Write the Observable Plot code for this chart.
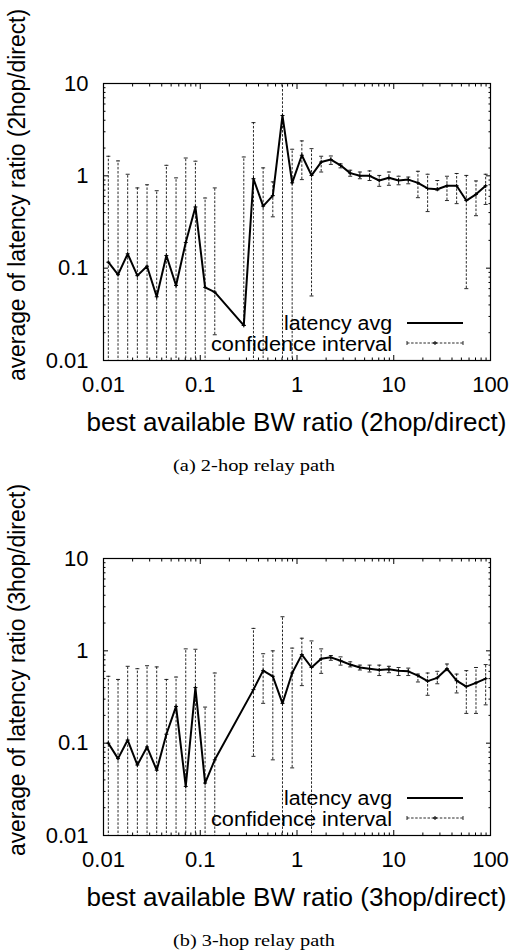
<!DOCTYPE html>
<html><head><meta charset="utf-8">
<script src="https://cdn.jsdelivr.net/npm/d3@7"></script>
<script src="https://cdn.jsdelivr.net/npm/@observablehq/plot@0.6"></script>
<style>
html,body{margin:0;padding:0;background:#fff;}
#root{position:relative;width:514px;height:951px;overflow:hidden;background:#fff;}
.panel{position:absolute;left:0;}
#overlay{position:absolute;left:0;top:0;}
</style></head><body><div id="root"></div>
<script>
// ---- data: panel (a) 2-hop relay path ----
const ratio2hop = [0.01122,0.01413,0.01778,0.02239,0.02818,0.03548,0.04467,0.05623,0.07079,0.08913,0.1122,0.1413,
  0.2818,0.3548,0.4467,0.5623,0.7079,0.8913,1.122,1.413,1.778,2.239,2.818,3.548,4.467,5.623,7.079,8.913,
  11.22,14.13,17.78,22.39,28.18,35.48,44.67,56.23,70.79,89.13];
const avg2hop = [0.116,0.085,0.143,0.083,0.105,0.049,0.137,0.065,0.19,0.46,0.062,0.055,
  0.024,0.93,0.47,0.61,4.5,0.84,1.67,1.01,1.41,1.5,1.3,1.07,1.0,1.0,0.89,0.955,
  0.89,0.91,0.84,0.73,0.715,0.78,0.78,0.54,0.63,0.78];
const hi2hop = [1.63,1.45,1.04,0.74,0.80,0.69,1.3,0.95,1.56,1.44,0.575,0.74,
  1.6,3.77,1.22,0.86,12,1.94,2.39,1.97,1.63,1.64,1.35,1.15,1.1,1.13,1.01,1.1,
  0.99,0.97,1.12,1.04,0.89,0.99,1.06,1.01,0.88,1.04];
// 0.001 = lower bound below the axis (clipped at frame)
const lo2hop = [0.001,0.001,0.001,0.001,0.001,0.001,0.001,0.001,0.001,0.001,0.001,0.019,
  0.024,0.001,0.001,0.36,0.001,0.001,0.91,0.05,1.1,1.33,1.22,0.99,0.93,0.89,0.77,0.79,
  0.8,0.82,0.58,0.41,0.7,0.54,0.5,0.06,0.37,0.49];

// ---- data: panel (b) 3-hop relay path ----
const ratio3hop = [0.01122,0.01413,0.01778,0.02239,0.02818,0.03548,0.04467,0.05623,0.07079,0.08913,0.1122,0.1413,
  0.3548,0.4467,0.5623,0.7079,0.8913,1.122,1.413,1.778,2.239,2.818,3.548,4.467,5.623,7.079,8.913,
  11.22,14.13,17.78,22.39,28.18,35.48,44.67,56.23,70.79,89.13];
const avg3hop = [0.10,0.068,0.108,0.058,0.091,0.051,0.125,0.25,0.034,0.40,0.037,0.066,
  0.38,0.61,0.53,0.27,0.575,0.91,0.66,0.82,0.85,0.78,0.71,0.66,0.64,0.62,0.63,
  0.61,0.60,0.54,0.47,0.51,0.64,0.475,0.41,0.45,0.50];
const hi3hop = [0.53,0.49,0.68,0.64,0.69,0.67,0.49,0.52,1.05,1.04,0.246,0.575,
  1.75,0.93,1.0,2.34,1.07,1.37,1.28,1.05,0.89,0.86,0.76,0.70,0.70,0.70,0.68,
  0.66,0.65,0.56,0.575,0.6,0.72,0.56,0.61,0.66,0.71];
const lo3hop = [0.001,0.001,0.001,0.001,0.001,0.001,0.001,0.001,0.001,0.001,0.001,0.001,
  0.072,0.27,0.066,0.001,0.054,0.42,0.001,0.57,0.79,0.70,0.67,0.62,0.59,0.54,0.58,
  0.54,0.54,0.46,0.33,0.44,0.61,0.35,0.21,0.21,0.26];

// ---- ticks / labels ----
const xTicks = [0.01,0.1,1,10,100];
const yTicks = [0.01,0.1,1,10];
const tickLabels = {0.01:"0.01",0.1:"0.1",1:"1",10:"10",100:"100"};
const xTitle = ["best available BW ratio (2hop/direct)","best available BW ratio (3hop/direct)"];
const yTitle = ["average of latency ratio (2hop/direct)","average of latency ratio (3hop/direct)"];
const captions = ["(a) 2-hop relay path","(b) 3-hop relay path"];
const legendLabels = ["latency avg","confidence interval"];

function minorOf(major){const out=[];for(let i=0;i<major.length-1;i++)for(let m=2;m<=9;m++)out.push(major[i]*m);return out;}
const xMinor = minorOf(xTicks), yMinor = minorOf(yTicks);

const capSym = {draw(ctx,size){const r=Math.sqrt(size/Math.PI);ctx.moveTo(-r,0);ctx.lineTo(r,0);}};
const plusSym = {draw(ctx,size){const r=Math.sqrt(size/Math.PI);ctx.moveTo(-r,0);ctx.lineTo(r,0);ctx.moveTo(0,-r);ctx.lineTo(0,r);}};

function panel(ratio, avg, hi, lo){
  const data = ratio.map((r,i)=>({r, a:avg[i], hi:hi[i], lo:lo[i]}));
  const tk = {stroke:"#000", strokeWidth:1, tickFormat:()=>"", label:null};
  return Plot.plot({
    width:514, height:400, marginLeft:103, marginRight:24, marginTop:83, marginBottom:40,
    style:{fontFamily:"'Liberation Sans', Arial, sans-serif", fontSize:"22px", background:"transparent", overflow:"visible", color:"#000"},
    x:{type:"log", domain:[0.01,100]},
    y:{type:"log", domain:[0.01,10]},
    marks:[
      Plot.ruleX(data,{x:"r", y1:"lo", y2:"hi", stroke:"#111", strokeWidth:0.9, strokeDasharray:"2.5,1.6", clip:true}),
      Plot.dot(data,{x:"r", y:"hi", symbol:capSym, r:2, stroke:"#111", strokeWidth:0.9, clip:true}),
      Plot.dot(data,{x:"r", y:"lo", symbol:capSym, r:2, stroke:"#111", strokeWidth:0.9, clip:true}),
      Plot.line(data,{x:"r", y:"a", stroke:"#000", strokeWidth:2, clip:true}),
      Plot.dot(data,{x:"r", y:"a", symbol:plusSym, r:2, stroke:"#000", strokeWidth:1, clip:true}),
      Plot.axisX(xTicks,{anchor:"bottom", tickSize:-5, ...tk}),
      Plot.axisX(xTicks,{anchor:"top", tickSize:-5, ...tk}),
      Plot.axisX(xMinor,{anchor:"bottom", tickSize:-2.5, ...tk}),
      Plot.axisX(xMinor,{anchor:"top", tickSize:-2.5, ...tk}),
      Plot.axisY(yTicks,{anchor:"left", tickSize:-5, ...tk}),
      Plot.axisY(yTicks,{anchor:"right", tickSize:-5, ...tk}),
      Plot.axisY(yMinor,{anchor:"left", tickSize:-2.5, ...tk}),
      Plot.axisY(yMinor,{anchor:"right", tickSize:-2.5, ...tk}),
      Plot.axisX(xTicks,{anchor:"bottom", tickSize:0, tickPadding:16, tickFormat:d=>tickLabels[d], label:null, fill:"#000"}),
      Plot.axisY(yTicks,{anchor:"left", tickSize:0, tickPadding:15, tickFormat:d=>tickLabels[d], label:null, fill:"#000"}),
      Plot.frame({stroke:"#000", strokeWidth:1.2})
    ]
  });
}

const root = document.getElementById("root");
const panels = [[ratio2hop,avg2hop,hi2hop,lo2hop],[ratio3hop,avg3hop,hi3hop,lo3hop]];
const offsets = [0, 475];
panels.forEach((p,i)=>{
  const el = panel(...p);
  const wrap = document.createElement("div");
  wrap.className = "panel"; wrap.style.top = offsets[i]+"px";
  wrap.appendChild(el);
  root.appendChild(wrap);
});

// overlay: titles, legend, captions
const NS = "http://www.w3.org/2000/svg";
const ov = document.createElementNS(NS,"svg");
ov.setAttribute("id","overlay"); ov.setAttribute("width",514); ov.setAttribute("height",951);
function txt(parent, s, attrs){const t=document.createElementNS(NS,"text");for(const k in attrs)t.setAttribute(k,attrs[k]);t.textContent=s;parent.appendChild(t);return t;}
function ln(parent, attrs){const l=document.createElementNS(NS,"line");for(const k in attrs)l.setAttribute(k,attrs[k]);parent.appendChild(l);return l;}
offsets.forEach((o,i)=>{
  const g = document.createElementNS(NS,"g");
  g.setAttribute("transform",`translate(0,${o})`);
  g.setAttribute("font-family","'Liberation Sans', Arial, sans-serif");
  ov.appendChild(g);
  txt(g, yTitle[i], {transform:"translate(25,381) rotate(-90)", "font-size":23, textLength:372, lengthAdjust:"spacingAndGlyphs"});
  txt(g, xTitle[i], {x:296.5, y:431, "text-anchor":"middle", "font-size":26, textLength:420, lengthAdjust:"spacingAndGlyphs"});
  txt(g, legendLabels[0], {x:392, y:329.5, "text-anchor":"end", "font-size":20, textLength:108, lengthAdjust:"spacingAndGlyphs"});
  txt(g, legendLabels[1], {x:392, y:350.5, "text-anchor":"end", "font-size":20, textLength:181, lengthAdjust:"spacingAndGlyphs"});
  ln(g,{x1:407,x2:463,y1:323,y2:323,stroke:"#000","stroke-width":2});
  ln(g,{x1:407,x2:463,y1:343,y2:343,stroke:"#111","stroke-width":0.9,"stroke-dasharray":"2.5,1.6"});
  ln(g,{x1:407,x2:407,y1:341,y2:345,stroke:"#111","stroke-width":0.9});
  ln(g,{x1:463,x2:463,y1:341,y2:345,stroke:"#111","stroke-width":0.9});
  ln(g,{x1:433,x2:437,y1:343,y2:343,stroke:"#000","stroke-width":1.2});
  ln(g,{x1:435,x2:435,y1:341,y2:345,stroke:"#000","stroke-width":1});
  txt(g, captions[i], {x:254, y:471, "text-anchor":"middle", "font-family":"'Liberation Serif', 'Times New Roman', serif", "font-size":17, textLength:162, lengthAdjust:"spacingAndGlyphs"});
});
root.appendChild(ov);
</script></body></html>
